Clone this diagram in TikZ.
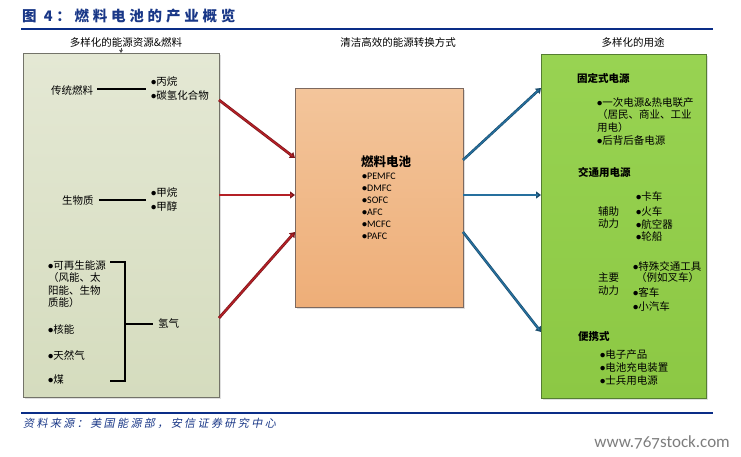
\documentclass[tikz,border=0pt]{standalone}
\usepackage{fontspec}
\setmainfont{Noto Sans CJK SC}
\newfontfamily\latinf{Carlito}
\newfontfamily\wmfont{Carlito}[Numbers=OldStyle]
\newcommand{\mybul}{{\latinf\bfseries •}}
\usetikzlibrary{arrows.meta,shadows}
\definecolor{navy}{RGB}{10,45,135}
\definecolor{titleblue}{RGB}{25,55,135}
\definecolor{lboxtop}{RGB}{228,232,212}
\definecolor{lboxbot}{RGB}{213,220,190}
\definecolor{lboxline}{RGB}{115,115,105}
\definecolor{mboxtop}{RGB}{243,197,155}
\definecolor{mboxbot}{RGB}{238,174,120}
\definecolor{mboxline}{RGB}{125,105,95}
\definecolor{rboxtop}{RGB}{152,211,82}
\definecolor{rboxbot}{RGB}{140,200,68}
\definecolor{rboxline}{RGB}{85,125,50}
\definecolor{arrred}{RGB}{180,32,38}
\definecolor{arrblue}{RGB}{38,112,158}
\definecolor{wmgray}{RGB}{125,125,125}
\tikzset{
  txt/.style={font=\fontsize{10.5pt}{12.5pt}\selectfont, inner sep=0pt, anchor=west, align=left},
  hdr/.style={font=\fontsize{10.5pt}{12.5pt}\selectfont, inner sep=0pt, anchor=center},
  btxt/.style={font=\fontsize{10.5pt}{12.5pt}\selectfont\bfseries, inner sep=0pt, anchor=west},
  ltxt/.style={font=\fontsize{10pt}{12pt}\latinf, inner sep=0pt, anchor=west},
  panel/.style={anchor=north west, inner sep=0pt, line width=0.8pt,
     drop shadow={opacity=0.25, shadow xshift=1.5pt, shadow yshift=-1.5pt}},
  blackbar/.style={line width=2.3pt, black},
  redarrow/.style={draw=arrred!70!black, line width=2.8pt, -{Triangle[length=5pt,width=7pt]},
     postaction={draw=arrred, line width=1.4pt, shorten >=3pt, -}},
  bluearrow/.style={draw=arrblue!70!black, line width=2.6pt, -{Triangle[length=5pt,width=7pt]},
     postaction={draw=arrblue, line width=1.3pt, shorten >=3pt, -}},
  rule/.style={line width=2pt, navy}
}
\begin{document}
\begin{tikzpicture}[x=1pt,y=-1pt]
\useasboundingbox (0,0) rectangle (741,457);

% title and rules
\node[inner sep=0pt, anchor=west, text=titleblue,
      font=\fontsize{14.5pt}{16pt}\selectfont\bfseries\addfontfeatures{LetterSpace=26}] (title) at (22,16) {图 4：燃料电池的产业概览};
\coordinate (topL) at (21,29);
\coordinate (topR) at (713,29);
\draw[rule] (topL) -- (topR);

% headers
\node[hdr] (hL) at (126,42) {多样化的能源资源\&燃料};
\node[hdr] (hM) at (398,42) {清洁高效的能源转换方式};
\node[hdr] (hR) at (633,42) {多样化的用途};

% panels
\node[panel, draw=lboxline, top color=lboxtop, bottom color=lboxbot,
      minimum width=196pt, minimum height=344pt] (lbox) at (23,53) {};
\node[panel, draw=mboxline, top color=mboxtop, bottom color=mboxbot,
      minimum width=168pt, minimum height=219pt] (mbox) at (295,88) {};
\node[panel, draw=rboxline, top color=rboxtop, bottom color=rboxbot,
      minimum width=165pt, minimum height=344pt] (rbox) at (541,54) {};

\coordinate (hLa) at (121,48);
\draw[gray!60!black, line width=0.6pt, -{Triangle[length=3pt,width=3.5pt]}] (hLa) -- (hLa |- lbox.north);

% left panel content
\node[txt] (tf) at (51,90) {传统燃料};
\node[txt] (tf1) at (151,82) {\mybul 丙烷};
\node[txt] (tf2) at (151,95) {\mybul 碳氢化合物};
\coordinate (tfR) at (146,89);
\draw[blackbar] ([xshift=4pt]tf.east |- tfR) -- (tfR);

\node[txt] (bm) at (62,201) {生物质};
\node[txt] (bm1) at (151,193) {\mybul 甲烷};
\node[txt] (bm2) at (151,206) {\mybul 甲醇};
\coordinate (bmR) at (146,200);
\draw[blackbar] ([xshift=5pt]bm.east |- bmR) -- (bmR);

\node[txt, anchor=north west] (re) at (48,260) {\mybul 可再生能源\\（风能、太\\阳能、生物\\质能）};
\node[txt] (nu) at (48,329) {\mybul 核能};
\node[txt] (ng) at (48,355) {\mybul 天然气};
\node[txt] (co) at (48,380) {\mybul 煤};
\node[txt] (hy) at (158,323) {氢气};
\coordinate (brT) at (110,262);
\coordinate (brB) at (110,381);
\draw[blackbar, line cap=butt] (brT) -- (125,262) -- (125,381) -- (brB);
\draw[blackbar, line width=2pt] (125,324) -- ([xshift=-5pt]hy.west |- 125,324);

% middle panel content
\node[inner sep=0pt, font=\fontsize{12.5pt}{14pt}\selectfont\bfseries] (fc) at (386,162) {燃料电池};
\node[ltxt] (f1) at (362,176) {\mybul PEMFC};
\node[ltxt] (f2) at (362,188) {\mybul DMFC};
\node[ltxt] (f3) at (362,200) {\mybul SOFC};
\node[ltxt] (f4) at (362,212) {\mybul AFC};
\node[ltxt] (f5) at (362,224) {\mybul MCFC};
\node[ltxt] (f6) at (362,236) {\mybul PAFC};

% right panel content
\node[btxt] (st) at (577,78) {固定式电源};
\node[txt, anchor=north west] (st1) at (597,97) {\mybul 一次电源\&热电联产\\（居民、商业、工业\\用电）};
\node[txt] (st2) at (597,141) {\mybul 后背后备电源};

\node[btxt] (tr) at (578,172) {交通用电源};
\node[txt, anchor=north west] (aux) at (598,206) {辅助\\动力};
\node[txt] (a1) at (636,196) {\mybul 卡车};
\node[txt] (a2) at (636,211) {\mybul 火车};
\node[txt] (a3) at (636,224) {\mybul 航空器};
\node[txt] (a4) at (636,237) {\mybul 轮船};

\node[txt, anchor=north west] (mainp) at (598,273) {主要\\动力};
\node[txt] (m1) at (633,266) {\mybul 特殊交通工具};
\node[txt] (m1b) at (636,278) {（例如叉车）};
\node[txt] (m2) at (633,292) {\mybul 客车};
\node[txt] (m3) at (633,306) {\mybul 小汽车};

\node[btxt] (po) at (578,337) {便携式};
\node[txt] (p1) at (600,355) {\mybul 电子产品};
\node[txt] (p2) at (600,368) {\mybul 电池充电装置};
\node[txt] (p3) at (600,381) {\mybul 士兵用电源};

% arrows left -> middle
\coordinate (l1) at (219,100);
\coordinate (l2) at (219,195);
\coordinate (l3) at (219,318);
\coordinate (m1in) at (295,158);
\coordinate (m2in) at (295,195);
\coordinate (m3in) at (295,232);
\draw[redarrow] (l1) -- (m1in);
\draw[redarrow] (l2) -- (m2in);
\draw[redarrow] (l3) -- (m3in);

% arrows middle -> right
\coordinate (o1) at (463,160);
\coordinate (o2) at (463,195);
\coordinate (o3) at (463,232);
\coordinate (r1) at (541,88);
\coordinate (r2) at (541,195);
\coordinate (r3) at (541,332);
\draw[bluearrow] (o1) -- (r1);
\draw[bluearrow] (o2) -- (r2);
\draw[bluearrow] (o3) -- (r3);

% bottom rule and source
\coordinate (botL) at (21,413);
\coordinate (botR) at (713,413);
\draw[rule] (botL) -- (botR);
\node[inner sep=0pt, anchor=west, text=titleblue,
      font=\fontsize{11pt}{13pt}\selectfont\addfontfeatures{FakeSlant=0.2,LetterSpace=22}] (src) at (23,423) {资料来源：美国能源部，安信证券研究中心};

\node[inner sep=0pt, anchor=east, text=wmgray, font=\fontsize{17pt}{19pt}\wmfont] (wm) at (730,442) {www.767stock.com};
\end{tikzpicture}
\end{document}
